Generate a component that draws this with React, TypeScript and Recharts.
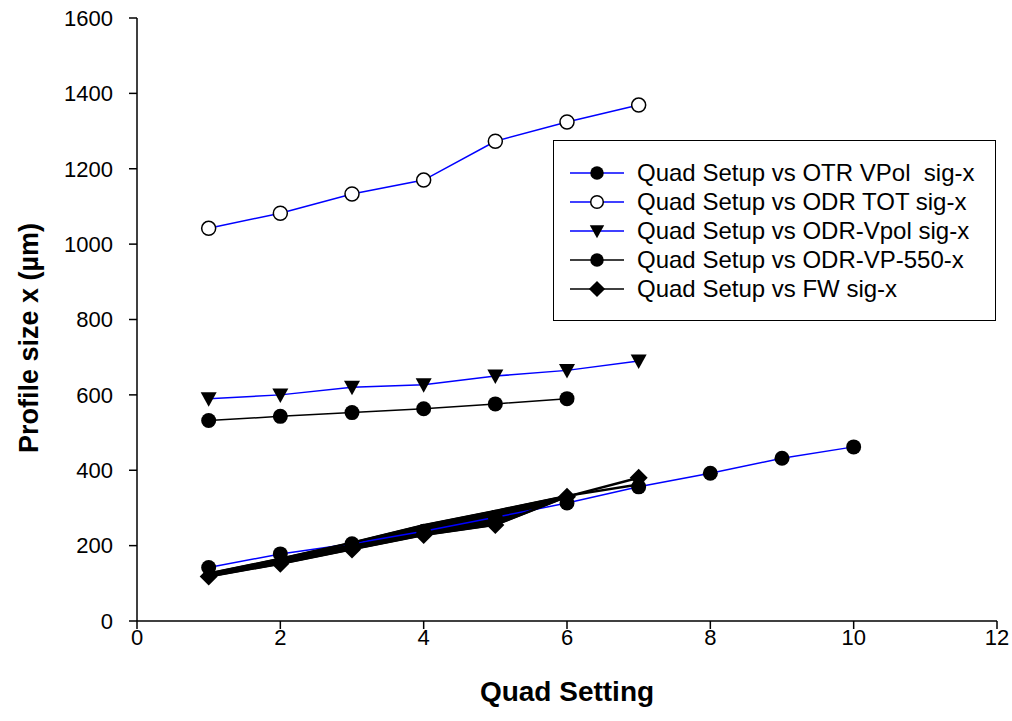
import React from "react";
import { ComposedChart, Line, Area, XAxis, YAxis } from "recharts";

const xTicks = [0, 2, 4, 6, 8, 10, 12];
const yTicks = [0, 200, 400, 600, 800, 1000, 1200, 1400, 1600];

const otrVpolX = [1, 2, 3, 4, 5, 6, 7, 8, 9, 10];
const otrVpolY = [142, 178, 205, 238, 275, 313, 356, 392, 432, 462];

const odrTotX = [1, 2, 3, 4, 5, 6, 7];
const odrTotY = [1042, 1082, 1133, 1170, 1273, 1324, 1369];

const odrVpolX = [1, 2, 3, 4, 5, 6, 7];
const odrVpolY = [590, 600, 620, 627, 650, 665, 690];

const odrVp550X = [1, 2, 3, 4, 5, 6];
const odrVp550Y = [532, 543, 553, 563, 576, 590];

const fwX = [1, 2, 3, 4, 5, 6, 7];
const fwY = [118, 152, 190, 228, 255, 330, 380];
// repeated FW measurements (no markers), forming the dark band
const fwRepX = [1, 2, 3, 4, 5, 6, 7];
const fwRepY = [126, 165, 208, 254, 292, 332, 362];

const seriesNames = [
  "Quad Setup vs OTR VPol  sig-x",
  "Quad Setup vs ODR TOT sig-x",
  "Quad Setup vs ODR-Vpol sig-x",
  "Quad Setup vs ODR-VP-550-x",
  "Quad Setup vs FW sig-x",
];

const FONT = "'Liberation Sans', Arial, sans-serif";

const zip = (xs: number[], ys: number[]) => xs.map((x, i) => ({ x, y: ys[i] }));
const fwBand = fwX.slice(0, 6).map((x, i) => ({ x, range: [fwY[i], fwRepY[i]] }));

type Shape = "circle" | "open" | "tri" | "diamond";

const Marker = ({ cx, cy, shape, s = 1 }: { cx: number; cy: number; shape: Shape; s?: number }) => {
  if (cx == null || cy == null) return null;
  if (shape === "circle") return <circle cx={cx} cy={cy} r={7.5 * s} fill="#000" />;
  if (shape === "open")
    return <circle cx={cx} cy={cy} r={7 * s} fill="#fff" stroke="#000" strokeWidth={1.5} />;
  if (shape === "tri")
    return (
      <polygon
        points={`${cx - 8 * s},${cy - 6.5 * s} ${cx + 8 * s},${cy - 6.5 * s} ${cx},${cy + 8 * s}`}
        fill="#000"
      />
    );
  return (
    <polygon
      points={`${cx},${cy - 9 * s} ${cx + 9 * s},${cy} ${cx},${cy + 9 * s} ${cx - 9 * s},${cy}`}
      fill="#000"
    />
  );
};

const makeDot = (shape: Shape) => (props: any) => (
  <Marker key={`${shape}-${props.index}`} cx={props.cx} cy={props.cy} shape={shape} />
);

const legendItems: { name: string; color: string; shape: Shape }[] = [
  { name: seriesNames[0], color: "#0000ff", shape: "circle" },
  { name: seriesNames[1], color: "#0000ff", shape: "open" },
  { name: seriesNames[2], color: "#0000ff", shape: "tri" },
  { name: seriesNames[3], color: "#000000", shape: "circle" },
  { name: seriesNames[4], color: "#000000", shape: "diamond" },
];

const LegendBox = () => (
  <div
    style={{
      position: "absolute",
      left: 553,
      top: 140,
      width: 443,
      height: 181,
      border: "1.5px solid #000",
      background: "#fff",
      boxSizing: "border-box",
      paddingTop: 17,
      paddingLeft: 16,
      fontFamily: FONT,
      fontSize: 24,
    }}
  >
    {legendItems.map((it) => (
      <div key={it.name} style={{ display: "flex", alignItems: "center", height: 29 }}>
        <svg width={54} height={20} style={{ marginRight: 13, flex: "none" }}>
          <line x1={0} y1={10} x2={54} y2={10} stroke={it.color} strokeWidth={1.5} />
          <Marker cx={27} cy={10} shape={it.shape} s={0.9} />
        </svg>
        <span style={{ whiteSpace: "pre", lineHeight: "29px" }}>{it.name}</span>
      </div>
    ))}
  </div>
);

export default function App() {
  const tickStyle = { fill: "#000", fontSize: 22, fontFamily: FONT };
  return (
    <div style={{ position: "absolute", left: 0, top: 0, width: 1012, height: 721, background: "#fff" }}>
      <ComposedChart width={1012} height={721} margin={{ top: 18, right: 15, bottom: 0, left: 0 }}>
        <XAxis
          type="number"
          dataKey="x"
          domain={[0, 12]}
          ticks={xTicks}
          allowDuplicatedCategory={false}
          axisLine={{ stroke: "#000", strokeWidth: 1.5 }}
          tickLine={{ stroke: "#000", strokeWidth: 1.5 }}
          tickSize={8}
          tickMargin={0}
          tick={tickStyle}
          height={100}
          label={{
            value: "Quad Setting",
            position: "insideBottom",
            offset: 20,
            style: { fill: "#000", fontSize: 28, fontWeight: "bold", fontFamily: FONT },
          }}
        />
        <YAxis
          type="number"
          domain={[0, 1600]}
          ticks={yTicks}
          width={137}
          axisLine={{ stroke: "#000", strokeWidth: 1.5 }}
          tickLine={{ stroke: "#000", strokeWidth: 1.5 }}
          tickSize={8}
          tickMargin={16}
          tick={tickStyle}
          label={{
            content: () => (
              <text
                x={38}
                y={338}
                transform="rotate(-90 38 338)"
                textAnchor="middle"
                style={{ fill: "#000", fontSize: 27, fontWeight: "bold", fontFamily: FONT }}
              >
                Profile size x (µm)
              </text>
            ),
          }}
        />
        <Line
          data={zip(otrVpolX, otrVpolY)}
          dataKey="y"
          name={seriesNames[0]}
          stroke="#0000ff"
          strokeWidth={1.5}
          dot={makeDot("circle")}
          activeDot={false}
          isAnimationActive={false}
        />
        <Line
          data={zip(odrTotX, odrTotY)}
          dataKey="y"
          name={seriesNames[1]}
          stroke="#0000ff"
          strokeWidth={1.5}
          dot={makeDot("open")}
          activeDot={false}
          isAnimationActive={false}
        />
        <Line
          data={zip(odrVpolX, odrVpolY)}
          dataKey="y"
          name={seriesNames[2]}
          stroke="#0000ff"
          strokeWidth={1.5}
          dot={makeDot("tri")}
          activeDot={false}
          isAnimationActive={false}
        />
        <Line
          data={zip(odrVp550X, odrVp550Y)}
          dataKey="y"
          name={seriesNames[3]}
          stroke="#000"
          strokeWidth={1.5}
          dot={makeDot("circle")}
          activeDot={false}
          isAnimationActive={false}
        />
        <Area
          data={fwBand}
          dataKey="range"
          type="linear"
          stroke="#000"
          strokeWidth={2}
          fill="#000"
          fillOpacity={1}
          legendType="none"
          activeDot={false}
          isAnimationActive={false}
        />
        <Line
          data={zip(fwRepX, fwRepY)}
          dataKey="y"
          name="FW repeat"
          legendType="none"
          stroke="#000"
          strokeWidth={2.5}
          dot={false}
          activeDot={false}
          isAnimationActive={false}
        />
        <Line
          data={zip(fwX, fwY)}
          dataKey="y"
          name={seriesNames[4]}
          stroke="#000"
          strokeWidth={2.5}
          dot={makeDot("diamond")}
          activeDot={false}
          isAnimationActive={false}
        />
      </ComposedChart>
      <LegendBox />
    </div>
  );
}
